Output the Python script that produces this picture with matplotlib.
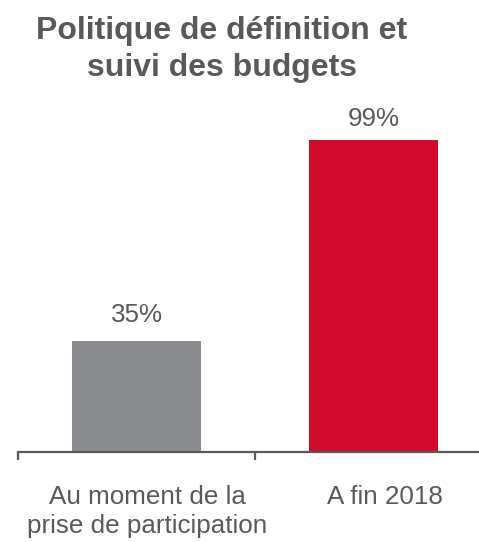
import matplotlib.pyplot as plt

plt.rcParams['font.family'] = ['Liberation Sans', 'DejaVu Sans']

# taux de mise en place de la politique budgétaire
categories = ["Au moment de la\nprise de participation", "A fin 2018"]
values = [35, 99]
bar_colors = ["#8a8b8f", "#d20a2e"]
text_color = "#595959"

W, H = 479, 542
fig = plt.figure(figsize=(W / 100, H / 100), dpi=100)

# axe : ligne de base à y=451 px, bord gauche à x=18 px
ax = fig.add_axes([18 / W, 1 - 451.5 / H, 474 / W, 345 / H])
ax.bar(range(len(values)), values, width=0.545, color=bar_colors, zorder=2)
ax.set_xlim(-0.5, 1.5)
ax.set_ylim(0, 109.5)

for s in ["top", "right", "left"]:
    ax.spines[s].set_visible(False)
ax.spines["bottom"].set_color(text_color)
ax.spines["bottom"].set_linewidth(1.6)
ax.set_yticks([])

# graduations entre les catégories
ax.set_xticks([])
ax.set_xticks([-0.5, 0.5, 1.5], minor=True)
ax.tick_params(axis="x", which="minor", length=6, width=1.6, color=text_color,
               labelbottom=False)

# valeurs au-dessus des barres
pad = [10, 6.5]
for i, v in enumerate(values):
    ax.annotate(f"{v}%", xy=(i, v), xytext=(0, pad[i]), textcoords="offset points",
                ha="center", va="bottom", fontsize=18.7, color=text_color)

# libellés des catégories
for i, c in enumerate(categories):
    ax.annotate(c, xy=(i, 0), xycoords=("data", "axes fraction"),
                xytext=(8, -24), textcoords="offset points",
                ha="center", va="top", fontsize=18.7, color=text_color,
                linespacing=1.25)

fig.text(222 / W, 1 - 16 / H, "Politique de définition et\nsuivi des budgets",
         ha="center", va="top", fontsize=23, fontweight="bold", color=text_color,
         linespacing=1.32)

fig.savefig("out.png", dpi=100)
